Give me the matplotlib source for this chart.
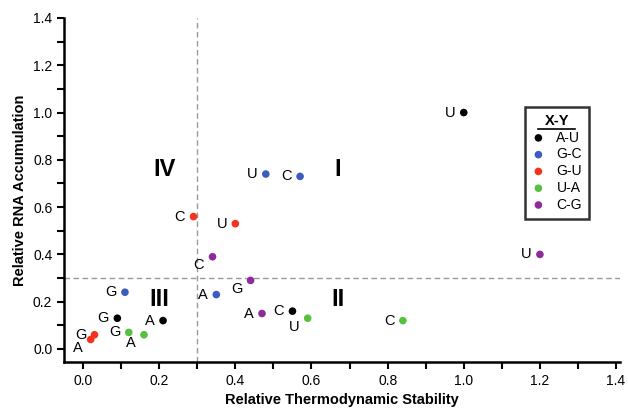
import matplotlib
matplotlib.use("Agg")
import matplotlib.pyplot as plt
from matplotlib.lines import Line2D

plt.rcParams['font.family'] = ['Liberation Sans', 'DejaVu Sans']

pairs = ["A-U", "G-C", "G-U", "U-A", "C-G"]
colors = ["#000000", "#3a5cc0", "#f5321e", "#55c13f", "#8f2a9b"]

# per pair: nucleotide labels, stability (x), accumulation (y)
labels = {
    "A-U": ["U", "C", "A", "G"],
    "G-C": ["U", "C", "A", "G"],
    "G-U": ["C", "U", "G", "A"],
    "U-A": ["G", "A", "U", "C"],
    "C-G": ["C", "G", "A", "U"],
}
stab = {
    "A-U": [1.00, 0.55, 0.21, 0.09],
    "G-C": [0.48, 0.57, 0.35, 0.11],
    "G-U": [0.29, 0.40, 0.03, 0.02],
    "U-A": [0.12, 0.16, 0.59, 0.84],
    "C-G": [0.34, 0.44, 0.47, 1.20],
}
accum = {
    "A-U": [1.00, 0.16, 0.12, 0.13],
    "G-C": [0.74, 0.73, 0.23, 0.24],
    "G-U": [0.56, 0.53, 0.06, 0.04],
    "U-A": [0.07, 0.06, 0.13, 0.12],
    "C-G": [0.39, 0.29, 0.15, 0.40],
}
# labels placed below-left instead of left
below = {("G-U", "A"), ("U-A", "A"), ("U-A", "U"), ("C-G", "C"), ("C-G", "G")}

fig = plt.figure(figsize=(6.28, 4.09), dpi=100)
ax = fig.add_axes([0.102, 0.115, 0.885, 0.841])

ax.axvline(0.3, color="#999999", ls=(0, (4, 2.5)), lw=1, zorder=1)
ax.axhline(0.3, color="#999999", ls=(0, (4, 2.5)), lw=1, zorder=1)

for p, c in zip(pairs, colors):
    ax.scatter(stab[p], accum[p], s=30, color=c, zorder=3, label=p, edgecolors="none")
    for lab, x, y in zip(labels[p], stab[p], accum[p]):
        if (p, lab) in below:
            off = (-6, -6)
        else:
            off = (-6, 0)
        ax.annotate(lab, (x, y), xytext=off, textcoords="offset points",
                    ha="right", va="center", fontsize=10.5)

quad = {"IV": (0.215, 0.76), "I": (0.67, 0.76), "III": (0.20, 0.21), "II": (0.67, 0.21)}
for k, (x, y) in quad.items():
    ax.text(x, y, k, fontsize=17, fontweight="bold", ha="center", va="center")

ax.set_xlim(-0.05, 1.41)
ax.set_ylim(-0.055, 1.4)
ax.set_xticks([0.0, 0.2, 0.4, 0.6, 0.8, 1.0, 1.2, 1.4])
ax.set_yticks([0.0, 0.2, 0.4, 0.6, 0.8, 1.0, 1.2, 1.4])
ax.set_xticks([0.1, 0.3, 0.5, 0.7, 0.9, 1.1, 1.3], minor=True)
ax.set_yticks([0.1, 0.3, 0.5, 0.7, 0.9, 1.1, 1.3], minor=True)
ax.set_xticklabels([f"{v:.1f}" for v in ax.get_xticks()])
ax.set_yticklabels([f"{v:.1f}" for v in ax.get_yticks()])
ax.tick_params(which="both", direction="out", length=5, width=1.5, labelsize=10)
for s in ["top", "right"]:
    ax.spines[s].set_visible(False)
for s in ["left", "bottom"]:
    ax.spines[s].set_linewidth(1.8)

ax.set_xlabel("Relative Thermodynamic Stability", fontsize=10.5, fontweight="bold")
ax.set_ylabel("Relative RNA Accumulation", fontsize=10.5, fontweight="bold")

leg = ax.legend(title="X-Y", loc="upper left", bbox_to_anchor=(0.816, 0.762),
                frameon=True, fancybox=False, fontsize=10, handletextpad=0.8,
                handlelength=1.0, borderpad=0.5, labelspacing=0.2,
                title_fontproperties={"weight": "bold", "size": 10.5})
leg.get_frame().set_edgecolor("black")
leg.get_frame().set_linewidth(1.8)

fig.canvas.draw()
bb = leg.get_title().get_window_extent(fig.canvas.get_renderer())
bb = bb.transformed(fig.transFigure.inverted())
fig.add_artist(Line2D([bb.x0 - 0.01, bb.x1 + 0.01], [bb.y0 - 0.002, bb.y0 - 0.002],
                      transform=fig.transFigure, color="black", lw=1.2))

fig.savefig("out.png", dpi=100)
